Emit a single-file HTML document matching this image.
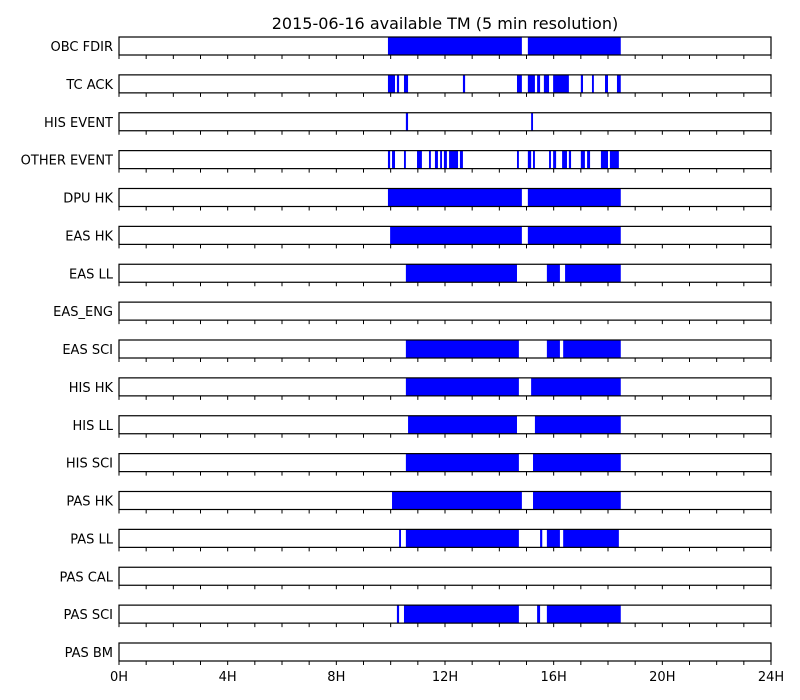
<!DOCTYPE html>
<html><head><meta charset="utf-8"><style>
body{margin:0;background:#fff;}
svg{display:block;font-family:"DejaVu Sans","Liberation Sans",sans-serif;}
</style></head><body>
<svg id="chart" width="800" height="700">
<text x="445" y="29" text-anchor="middle" font-size="16">2015-06-16 available TM (5 min resolution)</text>
</svg>
<script>
const rowNames = ["OBC FDIR","TC ACK","HIS EVENT","OTHER EVENT","DPU HK","EAS HK","EAS LL","EAS_ENG","EAS SCI","HIS HK","HIS LL","HIS SCI","PAS HK","PAS LL","PAS CAL","PAS SCI","PAS BM"];
const intervals = [
 [[9.9,14.83],[15.05,18.47]],
 [[9.9,10.16],[10.23,10.31],[10.49,10.64],[12.66,12.74],[14.65,14.83],[15.05,15.31],[15.39,15.5],[15.64,15.83],[15.98,16.56],[17.0,17.08],[17.41,17.48],[17.89,18.0],[18.33,18.47]],
 [[10.56,10.64],[15.17,15.24]],
 [[9.9,9.98],[10.05,10.16],[10.49,10.56],[10.97,11.15],[11.41,11.48],[11.63,11.74],[11.82,11.89],[11.96,12.07],[12.15,12.48],[12.55,12.66],[14.65,14.72],[15.05,15.17],[15.24,15.31],[15.83,15.9],[15.98,16.09],[16.31,16.49],[16.56,16.64],[17.0,17.15],[17.23,17.34],[17.74,18.0],[18.07,18.4]],
 [[9.9,14.83],[15.05,18.47]],
 [[9.98,14.83],[15.05,18.47]],
 [[10.56,14.65],[15.75,16.23],[16.42,18.47]],
 [],
 [[10.56,14.72],[15.75,16.23],[16.35,18.47]],
 [[10.56,14.72],[15.17,18.47]],
 [[10.64,14.65],[15.31,18.47]],
 [[10.56,14.72],[15.24,18.47]],
 [[10.05,14.83],[15.24,18.47]],
 [[10.31,10.38],[10.56,14.72],[15.5,15.58],[15.75,16.23],[16.35,18.4]],
 [],
 [[10.23,10.31],[10.49,14.72],[15.39,15.5],[15.75,18.47]],
 []
];
const tickLabels = ["0H","4H","8H","12H","16H","20H","24H"];

const NS="http://www.w3.org/2000/svg";
const svg=document.getElementById("chart");
const X0=119,X1=771,H=18,TOP=37,STEP=37.875;
function xs(h){return X0+(X1-X0)*h/24;}
function ys(i){return TOP+i*STEP;}
function mk(tag,attrs){const e=document.createElementNS(NS,tag);for(const k in attrs)e.setAttribute(k,attrs[k]);svg.appendChild(e);return e;}

rowNames.forEach((name,i)=>{
  const y=ys(i);
  intervals[i].forEach(iv=>{
    const r=mk("rect",{x:xs(iv[0]),y:y,width:Math.max(xs(iv[1])-xs(iv[0]),1),height:H,fill:"#0000ff"});
    
    
  });
  const b=mk("rect",{x:X0,y:y,width:X1-X0,height:H,fill:"none",stroke:"#000","stroke-width":1.2});
  
  
  for(let h=0;h<=24;h++){
    const t=mk("line",{x1:xs(h),x2:xs(h),y1:y+H,y2:y+H+4,stroke:"#000","stroke-width":1});
    
    
  }
  const lb=mk("text",{x:113,y:y+H/2+5,"text-anchor":"end","font-size":13});
  lb.textContent=name;
  
  
});
const lastY=ys(rowNames.length-1)+H;
tickLabels.forEach((t,k)=>{
  const e=mk("text",{x:xs(k*4),y:lastY+20,"text-anchor":"middle","font-size":13});
  e.textContent=t;
  
  
});
</script>
</body></html>
